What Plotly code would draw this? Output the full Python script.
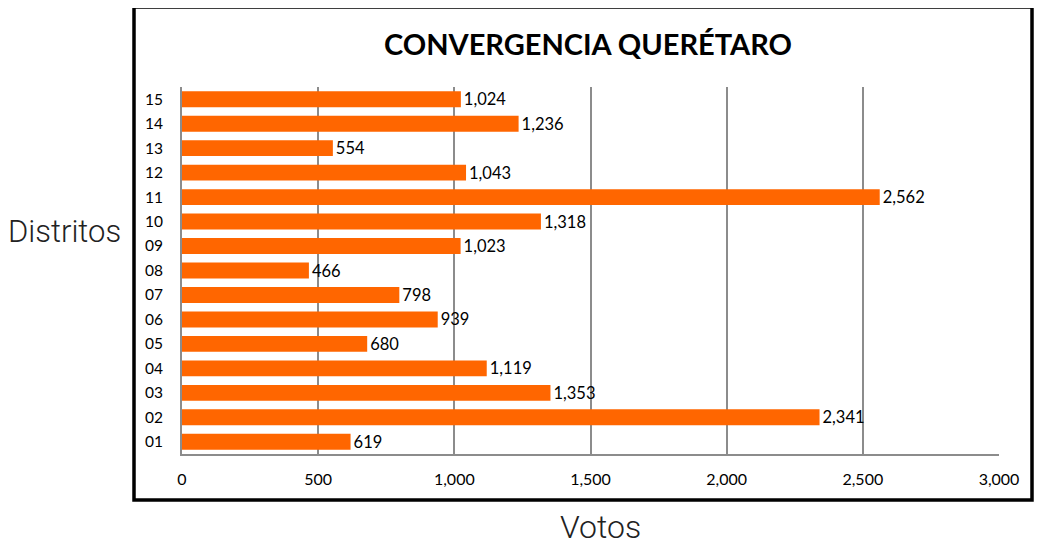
import plotly.graph_objects as go

distritos = ["01", "02", "03", "04", "05", "06", "07", "08", "09", "10", "11", "12", "13", "14", "15"]
votos = [619, 2341, 1353, 1119, 680, 939, 798, 466, 1023, 1318, 2562, 1043, 554, 1236, 1024]
title = "CONVERGENCIA QUERÉTARO"

fig = go.Figure(go.Bar(
    x=votos, y=distritos, orientation="h",
    marker=dict(color="#FF6600", line=dict(width=0)),
    width=0.65,
    texttemplate="%{x:,}", textposition="outside", cliponaxis=False,
    constraintext="none",
    textfont=dict(family="Lato", size=16.5, color="black"),
))

OFF = 8  # page body margin
W, H = 1045 - 2 * OFF, 550 - OFF
L, R, T, B = 182 - OFF, 999 - OFF, 87 - OFF, 454 - OFF
def px(x):
    return (x - OFF - L) / (R - L)
def py(y):
    return (B - (y - OFF)) / (B - T)

fig.update_layout(
    width=W, height=H,
    margin=dict(l=L, r=W - R, t=T, b=H - B),
    paper_bgcolor="white", plot_bgcolor="white",
    showlegend=False,
    font=dict(family="Lato", size=15, color="black"),
    xaxis=dict(range=[0, 3000], dtick=500, tickformat=",", showgrid=True,
               gridcolor="#8c8c8c", gridwidth=2, showline=True, linecolor="#8c8c8c",
               linewidth=2, zeroline=False, ticks="", ticklabelstandoff=10,
               tickfont=dict(family="Lato", size=16, color="black")),
    yaxis=dict(type="category", range=[-0.5, 14.5], showgrid=False, showline=True,
               linecolor="#8c8c8c", linewidth=2, ticks="", ticklabelstandoff=14,
               tickfont=dict(family="Lato", size=15.5, color="black")),
    shapes=[dict(type="rect", xref="paper", yref="paper",
                 x0=px(134), x1=px(1032), y0=py(500), y1=py(7),
                 line=dict(color="black", width=3.5), fillcolor="rgba(0,0,0,0)")],
    annotations=[
        dict(text="<b>" + title + "</b>", xref="paper", yref="paper", x=px(588), y=py(44),
             showarrow=False, xanchor="center", yanchor="middle",
             font=dict(family="Lato", size=29, color="black")),
        dict(text="Distritos", xref="paper", yref="paper", x=px(65), y=py(231),
             showarrow=False, xanchor="center", yanchor="middle",
             font=dict(family="Roboto", weight=300, size=31, color="#222222")),
        dict(text="Votos", xref="paper", yref="paper", x=px(600), y=py(527),
             showarrow=False, xanchor="center", yanchor="middle",
             font=dict(family="Roboto", weight=300, size=32, color="#222222")),
    ],
)

fig.write_html("out.html")
